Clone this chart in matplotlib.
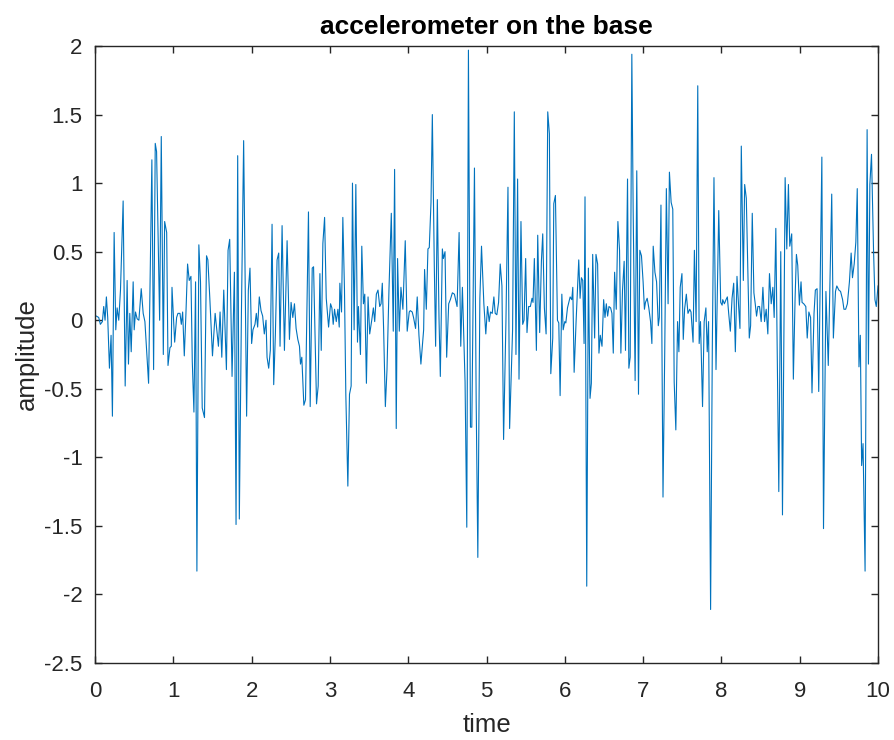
import numpy as np
import matplotlib.pyplot as plt

# signal, one array pair per second of time
t_0 = [0.017, 0.047, 0.068, 0.094, 0.111, 0.128, 0.145, 0.162, 0.184, 0.205, 0.222, 0.244, 0.265, 0.282,
       0.303, 0.325, 0.359, 0.385, 0.410, 0.427, 0.444, 0.462, 0.487, 0.500, 0.517, 0.538, 0.560, 0.590,
       0.615, 0.637, 0.684, 0.726, 0.748, 0.769, 0.786, 0.825, 0.846, 0.872, 0.889, 0.915, 0.932, 0.957,
       0.974, 0.983]
v_0 = [0.03, 0.02, -0.03, -0.01, 0.10, 0.00, 0.17, 0.02, -0.35, -0.11, -0.70, 0.64, -0.07, 0.09,
       0.00, 0.22, 0.87, -0.48, 0.29, -0.32, 0.05, -0.23, 0.28, -0.07, 0.06, 0.01, 0.00, 0.23,
       0.05, -0.01, -0.46, 1.17, -0.36, 1.29, 1.23, 0.00, 1.34, -0.25, 0.72, 0.64, -0.33, -0.20,
       -0.19, 0.24]

t_1 = [1.017, 1.042, 1.059, 1.085, 1.102, 1.119, 1.140, 1.161, 1.182, 1.203, 1.225, 1.242, 1.263, 1.284,
       1.301, 1.326, 1.347, 1.369, 1.398, 1.424, 1.441, 1.466, 1.500, 1.534, 1.555, 1.576, 1.597, 1.619,
       1.644, 1.678, 1.699, 1.720, 1.750, 1.780, 1.801, 1.822, 1.843, 1.869, 1.898, 1.936, 1.958, 1.979,
       2.000]
v_1 = [-0.16, 0.02, 0.05, 0.05, -0.03, 0.06, -0.26, 0.05, 0.41, 0.29, 0.32, -0.30, -0.67, 0.28,
       -1.83, 0.55, 0.28, -0.64, -0.71, 0.47, 0.44, 0.16, -0.26, 0.05, -0.07, -0.19, 0.06, -0.27,
       0.22, -0.36, 0.51, 0.59, -0.41, 0.35, -1.49, 1.20, -1.45, 0.02, 1.31, -0.70, 0.22, 0.38,
       -0.17]

t_2 = [2.017, 2.043, 2.060, 2.077, 2.098, 2.120, 2.141, 2.162, 2.184, 2.197, 2.218, 2.239, 2.261, 2.282,
       2.303, 2.325, 2.346, 2.363, 2.389, 2.419, 2.453, 2.483, 2.504, 2.526, 2.547, 2.568, 2.590, 2.611,
       2.624, 2.641, 2.667, 2.688, 2.726, 2.748, 2.774, 2.791, 2.829, 2.850, 2.872, 2.889, 2.910, 2.932,
       2.953, 2.983]
v_2 = [-0.07, -0.03, 0.05, -0.05, 0.17, 0.07, 0.03, -0.10, 0.00, -0.27, -0.35, -0.22, 0.70, -0.47,
       -0.11, 0.44, 0.49, -0.19, 0.69, -0.22, 0.58, -0.14, 0.13, 0.02, 0.12, -0.06, -0.14, -0.19,
       -0.32, -0.27, -0.62, -0.58, 0.79, -0.63, 0.38, 0.39, -0.61, -0.48, 0.34, -0.22, 0.56, 0.75,
       0.16, -0.05]

t_3 = [3.008, 3.025, 3.042, 3.059, 3.081, 3.102, 3.119, 3.127, 3.148, 3.165, 3.186, 3.203, 3.229, 3.250,
       3.271, 3.288, 3.309, 3.331, 3.352, 3.364, 3.390, 3.407, 3.428, 3.445, 3.466, 3.487, 3.508, 3.534,
       3.555, 3.572, 3.593, 3.614, 3.636, 3.653, 3.669, 3.686, 3.708, 3.729, 3.754, 3.784, 3.809, 3.826,
       3.847, 3.864, 3.886, 3.907, 3.932, 3.962, 3.987]
v_3 = [0.12, 0.09, -0.03, 0.08, -0.01, 0.08, -0.05, 0.27, 0.06, 0.75, 0.22, -0.54, -1.21, -0.54,
       -0.48, 1.00, -0.07, 0.99, -0.16, 0.10, -0.25, 0.54, 0.12, 0.19, -0.46, 0.17, -0.10, 0.00,
       0.09, -0.01, 0.19, 0.22, 0.10, 0.12, 0.27, -0.07, -0.63, -0.36, 0.22, 0.78, -0.08, 1.10,
       -0.79, 0.45, -0.08, 0.24, 0.08, 0.58, -0.08]

t_4 = [4.013, 4.026, 4.051, 4.068, 4.094, 4.115, 4.137, 4.162, 4.197, 4.209, 4.231, 4.252, 4.269, 4.291,
       4.308, 4.333, 4.350, 4.372, 4.393, 4.410, 4.436, 4.449, 4.470, 4.491, 4.517, 4.538, 4.564, 4.590,
       4.624, 4.650, 4.671, 4.692, 4.726, 4.748, 4.769, 4.795, 4.812, 4.846, 4.868, 4.889, 4.915, 4.936,
       4.966, 4.991]
v_4 = [0.06, 0.07, 0.06, 0.02, -0.06, 0.17, -0.11, -0.32, -0.07, 0.37, 0.08, 0.52, 0.53, 0.86,
       1.50, 0.40, -0.19, 0.88, 0.02, -0.41, 0.52, 0.45, 0.50, -0.27, 0.12, 0.15, 0.20, 0.19,
       0.10, 0.64, -0.19, 0.24, -0.45, -1.51, 1.97, -0.78, -0.78, 1.11, -0.59, -1.73, 0.16, 0.54,
       0.12, -0.10]

t_5 = [5.013, 5.034, 5.051, 5.073, 5.094, 5.111, 5.132, 5.154, 5.175, 5.197, 5.218, 5.248, 5.274, 5.295,
       5.333, 5.355, 5.376, 5.397, 5.415, 5.440, 5.462, 5.479, 5.500, 5.517, 5.538, 5.560, 5.581, 5.594,
       5.611, 5.637, 5.654, 5.679, 5.701, 5.718, 5.739, 5.761, 5.782, 5.803, 5.821, 5.846, 5.859, 5.880,
       5.906, 5.923, 5.940, 5.962, 5.979, 6.000]
v_5 = [0.10, -0.01, 0.06, 0.05, 0.17, 0.05, 0.04, 0.13, 0.41, 0.25, -0.87, -0.01, 0.97, -0.79,
       -0.07, 1.52, -0.25, 1.03, -0.43, 0.72, -0.03, 0.00, 0.45, -0.09, 0.10, 0.10, 0.16, 0.13,
       0.45, -0.22, 0.62, -0.09, 0.43, 0.63, 0.09, -0.10, 1.52, 1.36, -0.39, -0.13, 0.85, 0.91,
       0.00, -0.02, -0.55, 0.19, -0.07, -0.01]

t_6 = [6.013, 6.034, 6.068, 6.089, 6.102, 6.119, 6.144, 6.178, 6.195, 6.212, 6.229, 6.246, 6.258, 6.280,
       6.301, 6.322, 6.339, 6.356, 6.381, 6.398, 6.419, 6.436, 6.453, 6.475, 6.496, 6.513, 6.530, 6.547,
       6.564, 6.585, 6.602, 6.619, 6.636, 6.657, 6.678, 6.699, 6.716, 6.737, 6.758, 6.775, 6.801, 6.818,
       6.835, 6.856, 6.873, 6.898, 6.919, 6.941, 6.958, 6.979, 7.000]
v_6 = [-0.02, 0.09, 0.17, 0.15, 0.24, -0.38, -0.01, 0.44, 0.16, 0.31, 0.29, -0.17, 0.90, -1.94,
       0.38, -0.57, -0.46, 0.48, -0.13, 0.48, 0.41, -0.24, -0.11, -0.19, 0.15, 0.02, 0.12, 0.03,
       0.10, 0.09, 0.05, -0.24, 0.35, 0.08, 0.72, 0.51, -0.24, 0.22, 0.43, -0.22, 1.03, -0.35,
       -0.27, 1.94, 0.80, -0.44, 1.09, -0.54, 0.51, 0.47, 0.28]

t_7 = [7.017, 7.030, 7.052, 7.073, 7.095, 7.112, 7.129, 7.151, 7.172, 7.194, 7.207, 7.228, 7.254, 7.276,
       7.297, 7.319, 7.336, 7.358, 7.379, 7.397, 7.418, 7.440, 7.457, 7.474, 7.496, 7.513, 7.530, 7.552,
       7.573, 7.595, 7.612, 7.638, 7.655, 7.677, 7.698, 7.716, 7.733, 7.759, 7.780, 7.802, 7.819, 7.836,
       7.862, 7.884, 7.905, 7.931, 7.966, 7.991]
v_7 = [0.08, 0.13, 0.16, 0.09, -0.01, -0.17, 0.54, 0.35, 0.28, -0.04, 0.02, 0.84, -1.29, -0.24,
       0.96, 0.12, 1.08, 0.86, 0.81, -0.45, -0.80, -0.01, -0.23, 0.24, 0.34, -0.14, 0.08, 0.19,
       0.05, 0.08, 0.06, -0.16, 0.51, -0.01, 1.71, -0.17, -0.01, -0.63, -0.01, 0.09, -0.23, -0.01,
       -2.11, -0.19, 1.04, -0.36, 0.80, 0.13]

t_8 = [8.009, 8.017, 8.038, 8.059, 8.076, 8.093, 8.114, 8.136, 8.157, 8.178, 8.199, 8.220, 8.237, 8.254,
       8.280, 8.297, 8.318, 8.356, 8.373, 8.394, 8.415, 8.432, 8.449, 8.466, 8.487, 8.508, 8.530, 8.551,
       8.572, 8.593, 8.614, 8.636, 8.657, 8.674, 8.695, 8.733, 8.758, 8.780, 8.814, 8.835, 8.856, 8.873,
       8.898, 8.919, 8.941, 8.958, 8.975, 8.996]
v_8 = [0.11, 0.15, 0.12, 0.15, 0.17, 0.05, -0.08, 0.16, 0.27, -0.23, 0.32, 0.10, -0.06, 1.27,
       0.29, 0.99, 0.89, -0.13, -0.04, 0.78, 0.20, 0.12, 0.03, 0.10, 0.10, -0.01, 0.24, -0.01,
       0.08, -0.10, 0.34, 0.12, 0.24, 0.02, 0.67, -1.25, 0.50, -1.42, 1.04, 0.52, 0.99, 0.54,
       0.63, -0.43, 0.16, 0.48, 0.40, 0.11]

t_9 = [9.017, 9.030, 9.052, 9.078, 9.096, 9.117, 9.139, 9.157, 9.183, 9.200, 9.222, 9.243, 9.283, 9.304,
       9.335, 9.365, 9.409, 9.430, 9.457, 9.474, 9.500, 9.522, 9.548, 9.565, 9.587, 9.609, 9.635, 9.657,
       9.674, 9.696, 9.717, 9.735, 9.757, 9.774, 9.791, 9.809, 9.835, 9.861, 9.878, 9.896, 9.917, 9.943,
       9.961, 9.978, 10.000]
v_9 = [0.28, 0.13, 0.12, 0.10, -0.13, 0.06, 0.02, -0.53, 0.05, 0.22, 0.23, -0.52, 1.19, -1.52,
       0.21, -0.33, 0.92, -0.13, 0.21, 0.25, 0.22, 0.21, 0.15, 0.08, 0.08, 0.12, 0.28, 0.49,
       0.31, 0.41, 0.57, 0.96, -0.34, -0.11, -1.06, -0.90, -1.83, 1.39, -0.32, 0.99, 1.21, 0.51,
       0.15, 0.10, 0.25]

t = np.concatenate([t_0, t_1, t_2, t_3, t_4, t_5, t_6, t_7, t_8, t_9])
amp = np.concatenate([v_0, v_1, v_2, v_3, v_4, v_5, v_6, v_7, v_8, v_9])

plt.rcParams['font.family'] = ['Liberation Sans', 'DejaVu Sans']
axis_col = '#262626'

fig = plt.figure(figsize=(8.94, 7.40), dpi=100)
ax = fig.add_axes([0.1063, 0.1041, 0.8758, 0.8337])

ax.plot(t, amp, color='#0072BD', linewidth=0.8)

ax.set_xlim(0, 10)
ax.set_ylim(-2.5, 2)
ax.set_xticks(range(0, 11))
ax.set_yticks(np.arange(-2.5, 2.01, 0.5))
ax.set_yticklabels(['-2.5', '-2', '-1.5', '-1', '-0.5', '0', '0.5', '1', '1.5', '2'])

ax.tick_params(direction='in', top=True, right=True, length=5, width=1,
               labelsize=16, colors=axis_col)
ax.tick_params(axis='x', pad=13)
ax.tick_params(axis='y', pad=9)
for s in ax.spines.values():
    s.set_color(axis_col)
    s.set_linewidth(1)

ax.set_xlabel('time', fontsize=18.5, color=axis_col, labelpad=8)
ax.set_ylabel('amplitude', fontsize=18.5, color=axis_col, labelpad=4)
ax.set_title('accelerometer on the base', fontsize=19, fontweight='bold', pad=9)

fig.savefig('out.png', dpi=100)
